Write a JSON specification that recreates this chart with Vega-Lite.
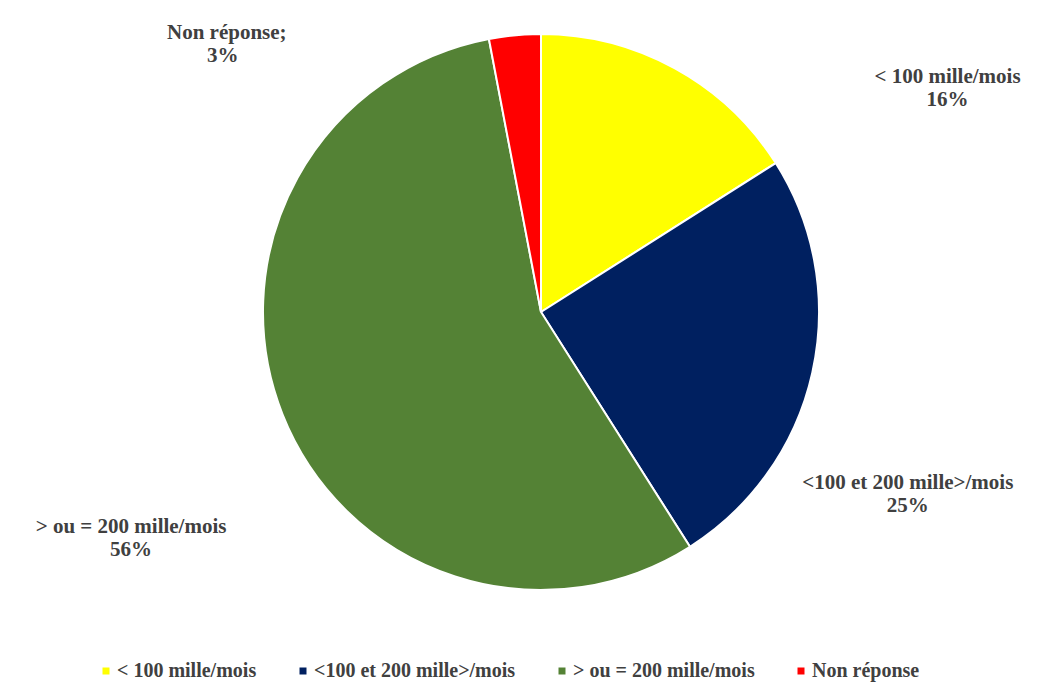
{
  "$schema": "https://vega.github.io/schema/vega-lite/v6.json",
  "autosize": "none",
  "width": 1046,
  "height": 608,
  "padding": {"left": 18, "top": 8, "right": 0, "bottom": 79},
  "background": "white",
  "config": {"view": {"stroke": null}},
  "data": {
    "values": [
      {"category": "< 100 mille/mois", "label": "< 100 mille/mois", "value": 0.16},
      {"category": "<100 et 200 mille>/mois", "label": "<100 et 200 mille>/mois", "value": 0.25},
      {"category": "> ou = 200 mille/mois", "label": "> ou = 200 mille/mois", "value": 0.56},
      {"category": "Non réponse", "label": "Non réponse;", "value": 0.03}
    ]
  },
  "encoding": {
    "theta": {"field": "value", "type": "quantitative", "stack": true},
    "order": {"field": "category", "type": "nominal", "sort": "ascending"}
  },
  "layer": [
    {
      "mark": {"type": "arc", "outerRadius": 278, "stroke": "white", "strokeWidth": 2},
      "encoding": {
        "color": {
          "field": "category",
          "type": "nominal",
          "scale": {
            "domain": ["< 100 mille/mois", "<100 et 200 mille>/mois", "> ou = 200 mille/mois", "Non réponse"],
            "range": ["#FFFF00", "#002060", "#548235", "#FF0000"]
          },
          "legend": {
            "title": null,
            "orient": "none",
            "legendX": 78,
            "legendY": 653,
            "direction": "horizontal",
            "columns": 4,
            "symbolType": "square",
            "symbolSize": 49,
            "symbolStrokeWidth": 0,
            "labelFont": "Liberation Serif",
            "labelFontSize": 20,
            "labelFontWeight": "bold",
            "labelColor": "#404040",
            "labelOffset": 1,
            "columnPadding": 36,
            "labelLimit": 400,
            "padding": 0
          }
        }
      }
    },
    {
      "mark": {
        "type": "text",
        "radius": 300,
        "font": "Liberation Serif",
        "fontSize": 21,
        "fontWeight": "bold",
        "fill": "#404040",
        "align": "center",
        "baseline": "middle",
        "dx": {"expr": "datum.category === '< 100 mille/mois' ? 262 : datum.category === '<100 et 200 mille>/mois' ? 74 : datum.category === '> ou = 200 mille/mois' ? -131 : -286"},
        "dy": {"expr": "datum.category === '< 100 mille/mois' ? 28 : datum.category === '<100 et 200 mille>/mois' ? 106 : datum.category === '> ou = 200 mille/mois' ? 105 : 20"}
      },
      "encoding": {"text": {"field": "label", "type": "nominal"}}
    },
    {
      "mark": {
        "type": "text",
        "radius": 300,
        "font": "Liberation Serif",
        "fontSize": 21,
        "fontWeight": "bold",
        "fill": "#404040",
        "align": "center",
        "baseline": "middle",
        "dx": {"expr": "datum.category === '< 100 mille/mois' ? 262 : datum.category === '<100 et 200 mille>/mois' ? 74 : datum.category === '> ou = 200 mille/mois' ? -131 : -290"},
        "dy": {"expr": "datum.category === '< 100 mille/mois' ? 51 : datum.category === '<100 et 200 mille>/mois' ? 129 : datum.category === '> ou = 200 mille/mois' ? 128 : 43"}
      },
      "encoding": {"text": {"field": "value", "type": "quantitative", "format": ".0%"}}
    }
  ]
}
